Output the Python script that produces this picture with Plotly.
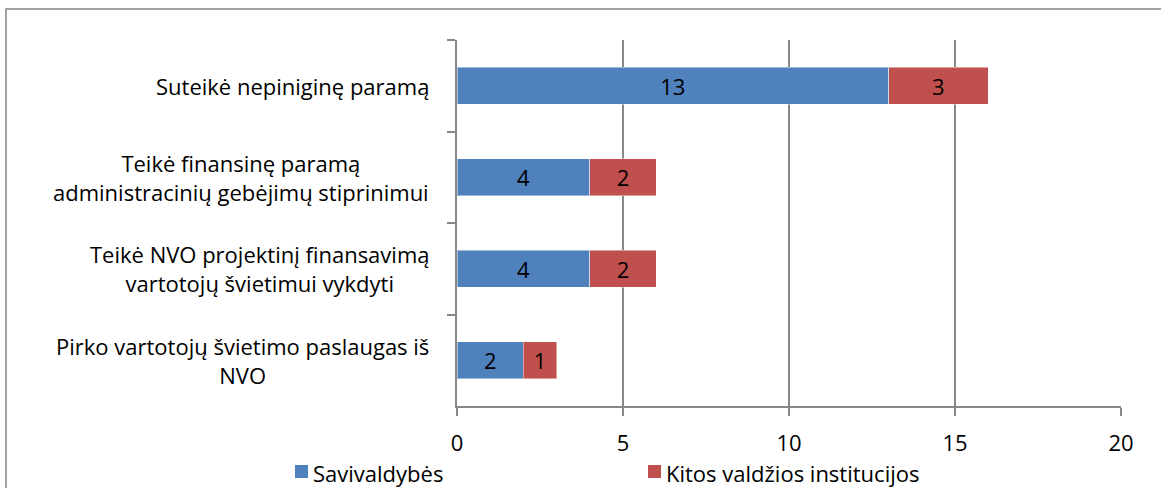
import plotly.graph_objects as go

categories = [
    "Suteikė nepiniginę paramą",
    "Teikė finansinę paramą<br>administracinių gebėjimų stiprinimui",
    "Teikė NVO projektinį finansavimą<br>vartotojų švietimui vykdyti",
    "Pirko vartotojų švietimo paslaugas iš<br>NVO",
]
cat_ids = ["c1", "c2", "c3", "c4"]
savivaldybes = [13, 4, 4, 2]
kitos = [3, 2, 2, 1]
series_names = ["Savivaldybės", "Kitos valdžios institucijos"]
colors = ["#4F81BD", "#C0504D"]
x_ticks = [0, 5, 10, 15, 20]

FONT = "Open Sans"
FS = 22

W, H = 1161, 488
L, R, T, B = 457, 40, 40, 82
pw, ph = W - L - R, H - T - B


def px2x(px):
    return (px - L) / pw


def py2y(py):
    return (H - B - py) / ph


fig = go.Figure()
for name, vals, col in zip(series_names, [savivaldybes, kitos], colors):
    fig.add_trace(go.Bar(
        y=cat_ids, x=vals, name=name, orientation="h",
        marker=dict(color=col, line=dict(color="rgba(255,255,255,0.45)", width=1)),
        text=[str(v) for v in vals], textposition="inside", insidetextanchor="middle",
        textfont=dict(color="black", size=FS, family=FONT),
        constraintext="none", hoverinfo="skip", showlegend=False,
    ))

# category labels (centered multi-line, right-aligned block)
for cid, lab in zip(cat_ids, categories):
    fig.add_annotation(
        x=0, xref="x", xanchor="right", xshift=-26,
        y=cid, yref="y", text=lab, showarrow=False, align="center",
        font=dict(family=FONT, size=FS, color="black"),
    )

# custom legend
legend_sq_left = [295, 648]
for name, col, sx in zip(series_names, colors, legend_sq_left):
    fig.add_shape(type="rect", xref="paper", yref="paper",
                  x0=px2x(sx), x1=px2x(sx + 13), y0=py2y(478), y1=py2y(465),
                  line=dict(width=0), fillcolor=col)
    fig.add_annotation(x=px2x(sx + 17), xref="paper", xanchor="left",
                       y=py2y(473), yref="paper", yanchor="middle", borderpad=0,
                       text=name, showarrow=False,
                       font=dict(family=FONT, size=FS, color="black"))

# outer chart frame (extends beyond image on right and bottom)
fig.add_shape(type="rect", xref="paper", yref="paper",
              x0=px2x(6), x1=px2x(1200), y0=py2y(9), y1=py2y(520),
              line=dict(color="#868686", width=1.5), fillcolor="rgba(0,0,0,0)", layer="below")

fig.update_layout(
    width=W, height=H,
    margin=dict(l=L, r=R, t=T, b=B, pad=0, autoexpand=False),
    barmode="stack", bargap=0.6,
    plot_bgcolor="white", paper_bgcolor="white",
    font=dict(family=FONT, size=FS, color="black"),
    showlegend=False,
    xaxis=dict(range=[0, 20], tickvals=x_ticks, ticktext=[str(v) for v in x_ticks],
               showgrid=True, gridcolor="#888888", gridwidth=1.5,
               showline=True, linecolor="#888888", linewidth=1.5,
               ticks="outside", ticklen=8, tickcolor="#888888", tickwidth=1.5,
               ticklabelstandoff=9,
               zeroline=False, tickfont=dict(family=FONT, size=FS), fixedrange=True),
    yaxis=dict(categoryorder="array", categoryarray=cat_ids, autorange="reversed",
               showticklabels=False, showgrid=False,
               showline=True, linecolor="#888888", linewidth=1.5,
               ticks="outside", tickson="boundaries", ticklen=8, tickcolor="#888888", tickwidth=1.5,
               zeroline=False, fixedrange=True),
)

fig.write_html("out.html", config={"displayModeBar": False},
               post_script="document.body.style.margin='0';document.body.style.overflow='hidden';")
